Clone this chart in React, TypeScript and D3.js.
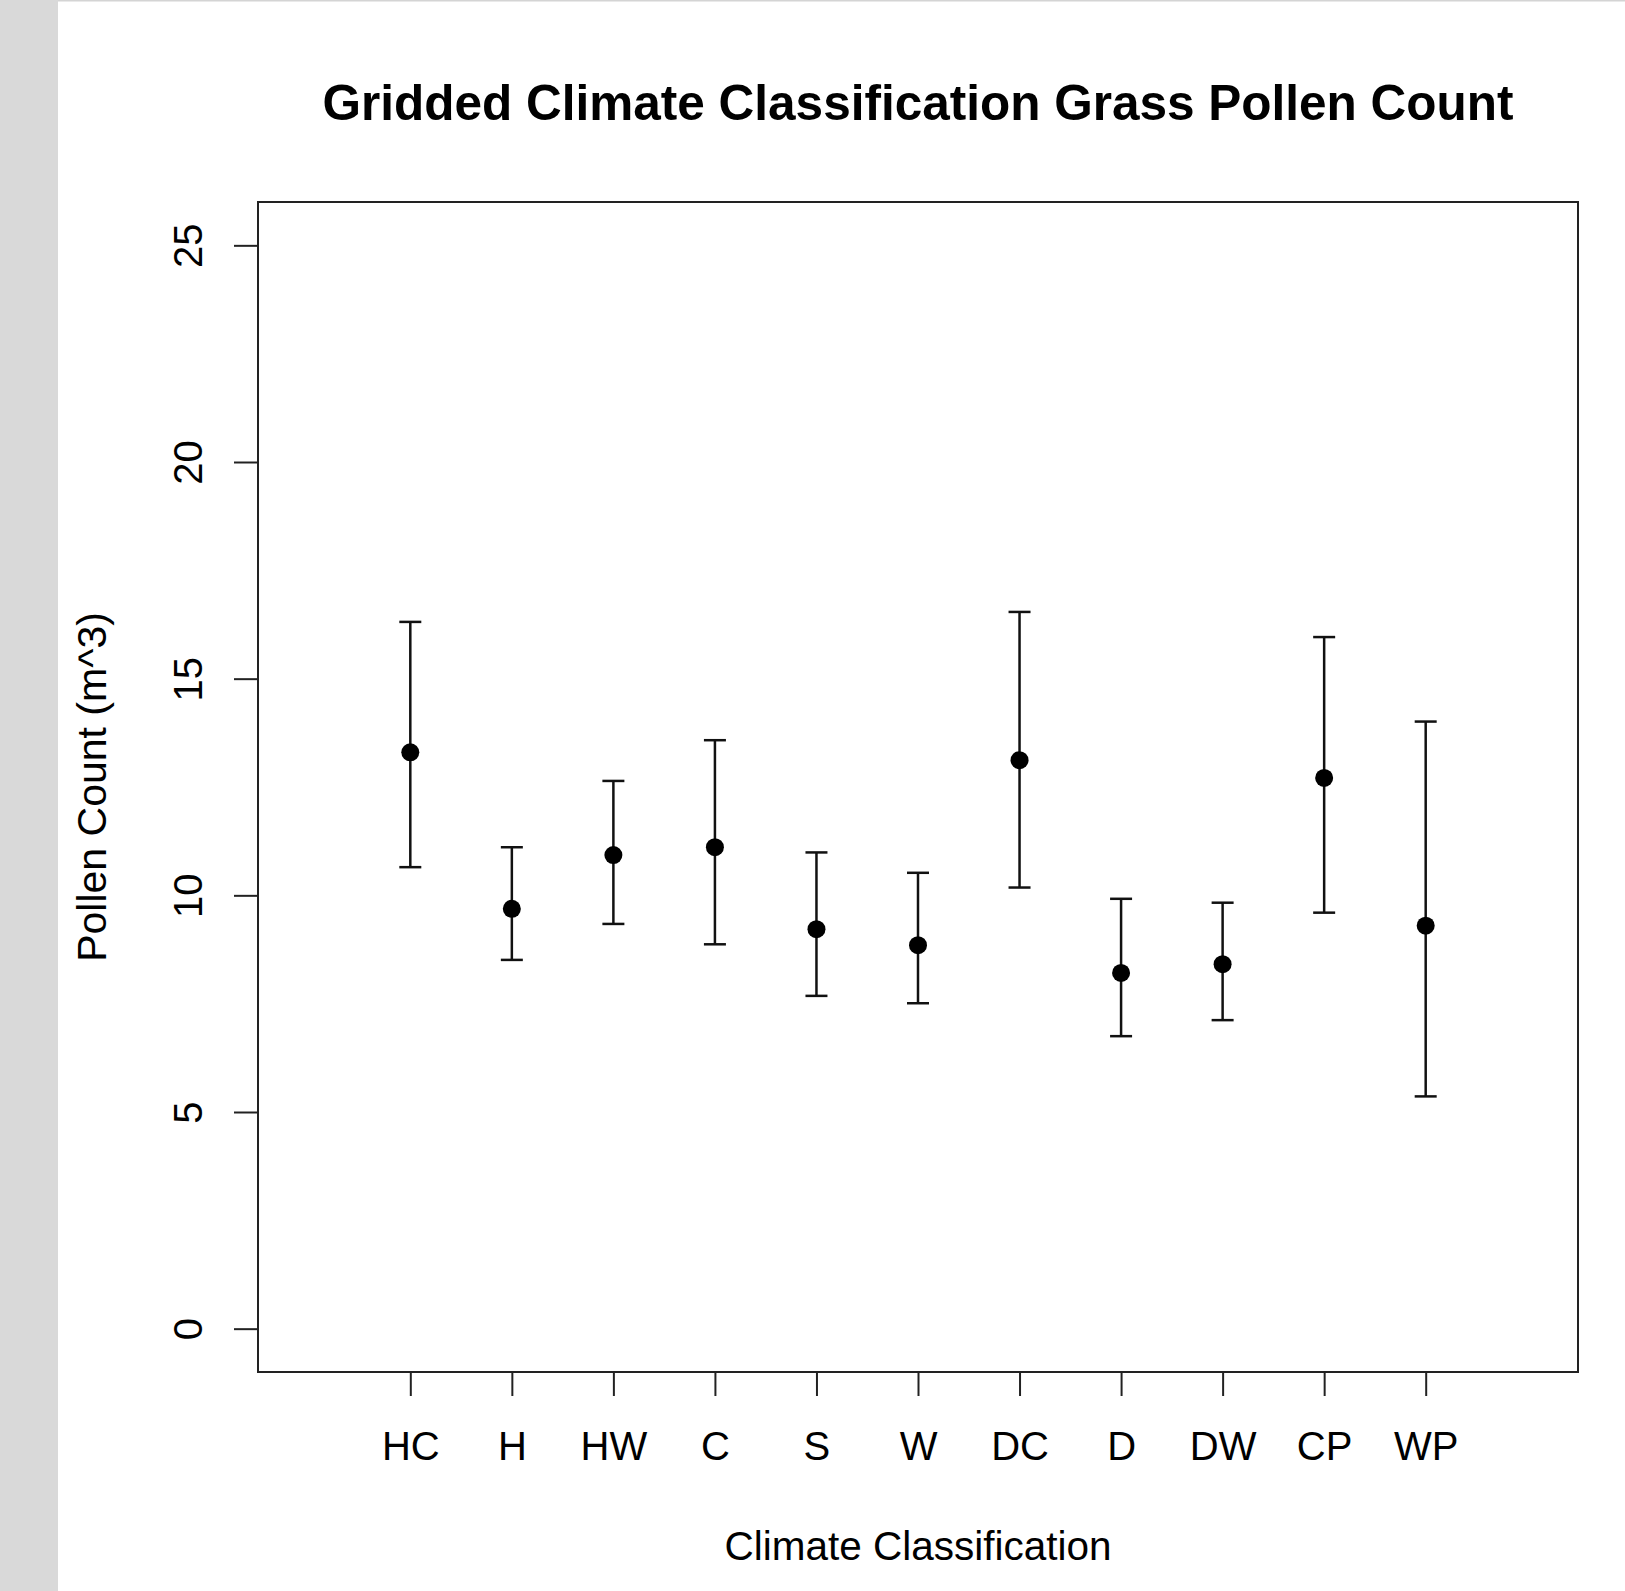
import {useEffect, useRef} from 'react';
import * as d3 from 'd3';

// Climate classes along the x axis
const categories = ['HC', 'H', 'HW', 'C', 'S', 'W', 'DC', 'D', 'DW', 'CP', 'WP'];
// Mean pollen count per class
const means = [13.3, 9.69, 10.93, 11.11, 9.22, 8.85, 13.12, 8.21, 8.41, 12.71, 9.3];
// Error bar ends
const lower = [10.65, 8.51, 9.34, 8.87, 7.68, 7.51, 10.18, 6.75, 7.12, 9.6, 5.36];
const upper = [16.31, 11.11, 12.64, 13.58, 10.99, 10.52, 16.54, 9.92, 9.83, 15.96, 14.01];
const yTicks = [0, 5, 10, 15, 20, 25];

export default function App() {
    const ref = useRef(null);

    useEffect(() => {
        const width = 1625;
        const height = 1591;
        const left = 258;
        const right = 1578;
        const top = 202;
        const bottom = 1372;
        const font = 'Arial, "Liberation Sans", sans-serif';

        const svg = d3.select(ref.current);
        svg.selectAll('*').remove();
        svg.attr('width', width).attr('height', height);

        svg.append('rect').attr('width', width).attr('height', height).attr('fill', '#fff');
        // grey window edges
        svg.append('rect').attr('x', 0).attr('y', 0).attr('width', 58).attr('height', height).attr('fill', '#d9d9d9');
        svg.append('rect').attr('x', 58).attr('y', 0).attr('width', width - 58).attr('height', 1.5).attr('fill', '#d4d4d4');

        const x = d3.scaleLinear().domain([-0.5, 12.5]).range([left, right]);
        const y = d3.scaleLinear().domain([-1, 26]).range([bottom, top]);

        const data = categories.map((c, i) => ({
            cat: c,
            pos: i + 1,
            mean: means[i],
            lo: lower[i],
            hi: upper[i],
        }));

        // x axis
        const xAxis = svg
            .append('g')
            .attr('transform', `translate(0, ${bottom})`)
            .call(
                d3
                    .axisBottom(x)
                    .tickValues(data.map((d) => d.pos))
                    .tickFormat((v) => categories[v - 1])
                    .tickSize(24)
            );
        xAxis.select('.domain').remove();
        xAxis.selectAll('line').attr('stroke', '#222').attr('stroke-width', 2);
        xAxis
            .selectAll('text')
            .attr('y', 88)
            .attr('dy', 0)
            .attr('fill', '#000')
            .attr('font-size', '40px')
            .attr('font-family', font);

        // y axis
        const yAxis = svg
            .append('g')
            .attr('transform', `translate(${left}, 0)`)
            .call(d3.axisLeft(y).tickValues(yTicks).tickSize(24));
        yAxis.select('.domain').remove();
        yAxis.selectAll('line').attr('stroke', '#222').attr('stroke-width', 2);
        yAxis
            .selectAll('text')
            .attr('x', 0)
            .attr('dy', 0)
            .attr('text-anchor', 'middle')
            .attr('transform', 'translate(-56, 0) rotate(-90)')
            .attr('fill', '#000')
            .attr('font-size', '40px')
            .attr('font-family', font);

        // plot box
        svg
            .append('rect')
            .attr('x', left)
            .attr('y', top)
            .attr('width', right - left)
            .attr('height', bottom - top)
            .attr('fill', 'none')
            .attr('stroke', '#222')
            .attr('stroke-width', 2);

        // error bars
        const bars = svg.append('g').attr('stroke', '#111').attr('stroke-width', 2.5);
        bars
            .selectAll('.stem')
            .data(data)
            .enter()
            .append('line')
            .attr('x1', (d) => x(d.pos))
            .attr('x2', (d) => x(d.pos))
            .attr('y1', (d) => y(d.lo))
            .attr('y2', (d) => y(d.hi));
        bars
            .selectAll('.capHi')
            .data(data)
            .enter()
            .append('line')
            .attr('x1', (d) => x(d.pos) - 11)
            .attr('x2', (d) => x(d.pos) + 11)
            .attr('y1', (d) => y(d.hi))
            .attr('y2', (d) => y(d.hi));
        bars
            .selectAll('.capLo')
            .data(data)
            .enter()
            .append('line')
            .attr('x1', (d) => x(d.pos) - 11)
            .attr('x2', (d) => x(d.pos) + 11)
            .attr('y1', (d) => y(d.lo))
            .attr('y2', (d) => y(d.lo));

        // means
        svg
            .selectAll('.pt')
            .data(data)
            .enter()
            .append('circle')
            .attr('cx', (d) => x(d.pos))
            .attr('cy', (d) => y(d.mean))
            .attr('r', 9)
            .attr('fill', '#000');

        // titles
        svg
            .append('text')
            .attr('x', (left + right) / 2)
            .attr('y', 120)
            .attr('text-anchor', 'middle')
            .attr('font-size', '49.5px')
            .attr('font-weight', 'bold')
            .attr('font-family', font)
            .text('Gridded Climate Classification Grass Pollen Count');

        svg
            .append('text')
            .attr('x', (left + right) / 2)
            .attr('y', 1560)
            .attr('text-anchor', 'middle')
            .attr('font-size', '40.5px')
            .attr('font-family', font)
            .text('Climate Classification');

        svg
            .append('text')
            .attr('transform', `translate(106, ${(top + bottom) / 2}) rotate(-90)`)
            .attr('text-anchor', 'middle')
            .attr('font-size', '41px')
            .attr('font-family', font)
            .text('Pollen Count (m^3)');
    }, []);

    return <svg ref={ref} style={{position: 'absolute', left: 0, top: 0, display: 'block'}}></svg>;
}
